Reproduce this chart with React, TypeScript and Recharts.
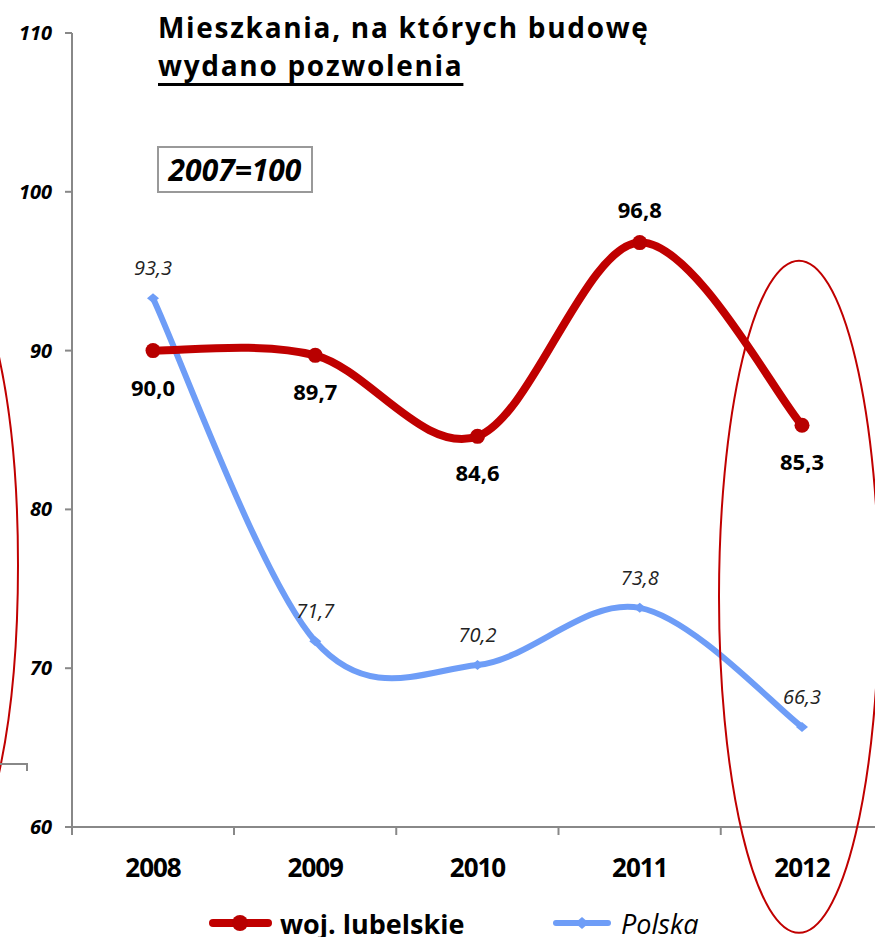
import { LineChart, Line, XAxis, YAxis, LabelList, ReferenceDot } from 'recharts';

// dane (2007=100)
const years = ['2008', '2009', '2010', '2011', '2012'];
const lubelskie = [90.0, 89.7, 84.6, 96.8, 85.3];
const polska = [93.3, 71.7, 70.2, 73.8, 66.3];
const yTicks = [60, 70, 80, 90, 100, 110];
// which side of the point the red labels sit on
const lubelskieLabelSide = ['below', 'below', 'below', 'above', 'below'];

const RED = '#C00000';
const BLUE = '#6E9DF7';
const FONT = '"Open Sans", "Noto Sans", sans-serif';

const data = years.map((year, i) => ({
  year,
  lubelskie: lubelskie[i],
  polska: polska[i],
}));

const fmt = (v: number) => v.toFixed(1).replace('.', ',');

// Excel-like smoothed line (Catmull-Rom as cubic bezier)
const smoothCurve = (context: any) => {
  let pts: number[][] = [];
  return {
    areaStart() {},
    areaEnd() {},
    lineStart() {
      pts = [];
    },
    point(x: number, y: number) {
      pts.push([+x, +y]);
    },
    lineEnd() {
      if (!pts.length) return;
      context.moveTo(pts[0][0], pts[0][1]);
      for (let i = 0; i < pts.length - 1; i++) {
        const p0 = pts[i - 1] || pts[i];
        const p1 = pts[i];
        const p2 = pts[i + 1];
        const p3 = pts[i + 2] || p2;
        context.bezierCurveTo(
          p1[0] + (p2[0] - p0[0]) / 6,
          p1[1] + (p2[1] - p0[1]) / 6,
          p2[0] - (p3[0] - p1[0]) / 6,
          p2[1] - (p3[1] - p1[1]) / 6,
          p2[0],
          p2[1]
        );
      }
    },
  };
};

const XTick = (props: any) => {
  const { x, y, payload, index } = props;
  const half = 81;
  return (
    <g>
      {index === 0 && <line x1={x - half} y1={y} x2={x - half} y2={y + 8} stroke="#888" strokeWidth={2} />}
      <line x1={x + half} y1={y} x2={x + half} y2={y + 8} stroke="#888" strokeWidth={2} />
      <text x={x} y={y + 50} textAnchor="middle" fontSize={26} fontWeight={700} fill="#000" letterSpacing={-1}>
        {payload.value}
      </text>
    </g>
  );
};

const YTick = (props: any) => {
  const { x, y, payload } = props;
  return (
    <text x={x} y={y + 7} textAnchor="end" fontSize={20} fontWeight={700} fontStyle="italic" fill="#000">
      {payload.value}
    </text>
  );
};

const RedDot = (props: any) => {
  const { cx, cy } = props;
  if (cx == null || cy == null) return null;
  return <circle cx={cx} cy={cy} r={7.5} fill="#B80000" />;
};

const BlueDot = (props: any) => {
  const { cx, cy } = props;
  if (cx == null || cy == null) return null;
  return <polygon points={`${cx - 6},${cy} ${cx},${cy - 5} ${cx + 6},${cy} ${cx},${cy + 5}`} fill={BLUE} />;
};

const RedLabel = (props: any) => {
  const { x, y, value, index } = props;
  const above = lubelskieLabelSide[index] === 'above';
  return (
    <text x={x} y={above ? y - 25 : y + 45} textAnchor="middle" fontSize={22} fontWeight={700} fill="#000">
      {fmt(value)}
    </text>
  );
};

const BlueLabel = (props: any) => {
  const { x, y, value } = props;
  return (
    <text x={x} y={y - 23} textAnchor="middle" fontSize={20} fontStyle="italic" fill="#222">
      {fmt(value)}
    </text>
  );
};

const Ellipse2012 = (props: any) => {
  const { cx, cy } = props;
  if (cx == null || cy == null) return null;
  return <ellipse cx={cx - 3} cy={cy} rx={80} ry={336} fill="none" stroke={RED} strokeWidth={2} />;
};

export default function App() {
  return (
    <div
      style={{
        position: 'absolute',
        top: 0,
        left: 0,
        width: 875,
        height: 937,
        overflow: 'hidden',
        background: '#fff',
        fontFamily: FONT,
      }}
    >
      {/* bits of the neighbouring chart on the left */}
      <svg width={875} height={937} style={{ position: 'absolute', left: 0, top: 0 }}>
        <ellipse cx={-50} cy={565} rx={68} ry={300} fill="none" stroke={RED} strokeWidth={2} />
        <polyline points="0,764 27,764 27,771" fill="none" stroke="#888" strokeWidth={2} />
      </svg>

      <div style={{ position: 'absolute', left: 0, top: 0 }}>
        <LineChart width={890} height={937} data={data} margin={{ top: 33, right: 7, bottom: 70, left: 0 }}>
          <XAxis
            dataKey="year"
            height={40}
            padding={{ left: 81, right: 81 }}
            axisLine={{ stroke: '#888', strokeWidth: 2 }}
            tickLine={false}
            tickSize={0}
            tickMargin={0}
            tick={<XTick />}
            interval={0}
          />
          <YAxis
            width={72}
            domain={[60, 110]}
            ticks={yTicks}
            interval={0}
            axisLine={{ stroke: '#888', strokeWidth: 2 }}
            tickLine={{ stroke: '#888', strokeWidth: 2 }}
            tickSize={7}
            tickMargin={13}
            tick={<YTick />}
          />
          <Line
            dataKey="polska"
            type={smoothCurve as any}
            stroke={BLUE}
            strokeWidth={6}
            dot={<BlueDot />}
            activeDot={false}
            isAnimationActive={false}
          >
            <LabelList dataKey="polska" content={<BlueLabel />} />
          </Line>
          <Line
            dataKey="lubelskie"
            type={smoothCurve as any}
            stroke={RED}
            strokeWidth={8}
            dot={<RedDot />}
            activeDot={false}
            isAnimationActive={false}
          >
            <LabelList dataKey="lubelskie" content={<RedLabel />} />
          </Line>
          <ReferenceDot x="2012" y={74.5} r={0} ifOverflow="visible" shape={<Ellipse2012 />} />
        </LineChart>
      </div>

      {/* title */}
      <div
        style={{
          position: 'absolute',
          left: 158,
          top: 8,
          fontSize: 28,
          fontWeight: 700,
          lineHeight: '38px',
          letterSpacing: 1.7,
          color: '#000',
          whiteSpace: 'nowrap',
        }}
      >
        <div>Mieszkania, na których budowę</div>
        <div style={{ textDecoration: 'underline', textDecorationThickness: 2.5, textUnderlineOffset: 7 }}>
          wydano pozwolenia
        </div>
      </div>

      {/* base year box */}
      <div
        style={{
          position: 'absolute',
          left: 157,
          top: 146,
          width: 152,
          height: 43,
          border: '2px solid #999',
          fontSize: 30,
          fontWeight: 700,
          fontStyle: 'italic',
          lineHeight: '43px',
          textAlign: 'center',
          color: '#000',
        }}
      >
        2007=100
      </div>

      {/* legend */}
      <svg width={875} height={937} style={{ position: 'absolute', left: 0, top: 0, pointerEvents: 'none' }}>
        <line x1={213} y1={923} x2={268} y2={923} stroke={RED} strokeWidth={8} strokeLinecap="round" />
        <circle cx={240} cy={923} r={8} fill="#B80000" />
        <line x1={556} y1={923} x2={608} y2={923} stroke={BLUE} strokeWidth={6} strokeLinecap="round" />
        <polygon points="575,923 582,917 589,923 582,929" fill={BLUE} />
      </svg>
      <div style={{ position: 'absolute', left: 280, top: 905, fontSize: 27, lineHeight: '37px', fontWeight: 700, color: '#000', whiteSpace: 'nowrap' }}>
        woj. lubelskie
      </div>
      <div style={{ position: 'absolute', left: 621, top: 905, fontSize: 27, lineHeight: '37px', fontStyle: 'italic', color: '#000', whiteSpace: 'nowrap' }}>
        Polska
      </div>
    </div>
  );
}
